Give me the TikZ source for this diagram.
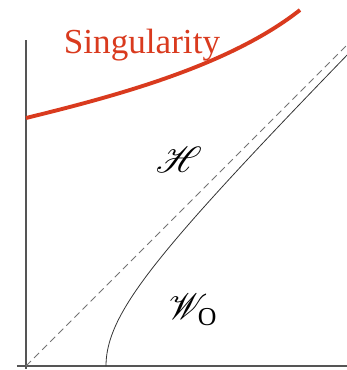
\documentclass[tikz,border=0pt]{standalone}
\usepackage{fontspec}
\setmainfont{Liberation Serif}
\usepackage{mathrsfs}
\usepackage{tikz}
\usetikzlibrary{positioning, calc}
\definecolor{singred}{HTML}{D93A1E}
\definecolor{axisgray}{HTML}{555555}

\begin{document}
\begin{tikzpicture}[
    x=0.02cm, y=-0.02cm,
    axis/.style={axisgray, line width=0.9pt},
    horizon/.style={black!55, dash pattern=on 4pt off 2.5pt, line width=0.55pt},
    boundary/.style={black!80, line width=0.45pt},
    sing/.style={singred, line width=2.2pt},
    label/.style={font=\fontsize{20}{24}\selectfont},
    region/.style={font=\fontsize{21}{24}\selectfont}
  ]
    \useasboundingbox (0,0) rectangle (347,370);

    % axes
    \coordinate (origin) at (26,366);
    \coordinate (ytop) at (26,40);
    \coordinate (xleft) at (17,366);
    \coordinate (xright) at (347,366);
    \draw[axis] (ytop) -- (26,369);
    \draw[axis] (xleft) -- (xright);

    % horizon and boundary
    \coordinate (hend) at (347,45);
    \draw[horizon] (origin) -- (hend);
    \draw[boundary, shift={(origin)}]
      plot[domain=0:2.07, samples=60, variable=\t]
      ({80*cosh(\t)}, {-80*sinh(\t)});

    % singularity
    \coordinate (sleft) at (26,118);
    \coordinate (sright) at (300,10);
    \draw[sing] (sleft) .. controls (120,95) and (230,65) .. (sright);
    \node[label, text=singred, anchor=base] (singlabel) at (142,53) {Singularity};

    % regions
    \node[region] (hreg) at (179,160) {$\mathscr{H}$};
    \node[region] (wreg) at (193,310) {$\mathscr{W}_{\mathrm{O}}$};
  \end{tikzpicture}
\end{document}
